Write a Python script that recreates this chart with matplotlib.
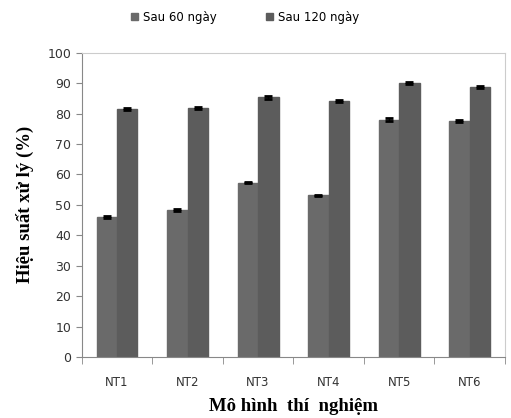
import numpy as np
import matplotlib
matplotlib.use("Agg")
import matplotlib.pyplot as plt
from matplotlib.ticker import MultipleLocator, FixedLocator

categories = ["NT1", "NT2", "NT3", "NT4", "NT5", "NT6"]
sau_60 = [46.0, 48.2, 57.3, 53.1, 78.0, 77.5]
sau_120 = [81.5, 81.8, 85.3, 84.2, 90.0, 88.8]
err_60 = [0.3, 0.3, 0.2, 0.2, 0.4, 0.4]
err_120 = [0.4, 0.4, 0.4, 0.4, 0.4, 0.4]

fig = plt.figure(figsize=(5.11, 4.18), dpi=100)
ax = fig.add_axes([0.160, 0.146, 0.828, 0.728])

x = np.arange(len(categories))
width = 0.29
err_kw = dict(ecolor="black", elinewidth=1.0, capsize=3.0, capthick=2.0)
ax.bar(x - width / 2, sau_60, width, color="#6a6a6a", edgecolor="#6a6a6a",
       yerr=err_60, error_kw=err_kw, label="Sau 60 ngày")
ax.bar(x + width / 2, sau_120, width, color="#5c5c5c", edgecolor="#5c5c5c",
       yerr=err_120, error_kw=err_kw, label="Sau 120 ngày")

ax.set_xlim(-0.5, len(categories) - 0.5)
ax.set_ylim(0, 100)
ax.yaxis.set_major_locator(MultipleLocator(10))
ax.set_xticks(x)
ax.set_xticklabels(categories)
ax.xaxis.set_minor_locator(FixedLocator(np.arange(-0.5, len(categories), 1.0)))
ax.tick_params(axis="x", which="major", length=0, pad=14, labelsize=8.5, colors="#333333")
ax.tick_params(axis="x", which="minor", length=5, color="#888888")
ax.tick_params(axis="y", length=4, color="#888888", labelsize=9, labelcolor="#333333")

for side in ["left", "bottom"]:
    ax.spines[side].set_color("#888888")
for side in ["top", "right"]:
    ax.spines[side].set_color("#cccccc")

serif = {"family": "Liberation Serif", "weight": "bold", "size": 13.5}
ax.set_xlabel("Mô hình  thí  nghiệm", fontdict=serif, labelpad=6)
ax.set_ylabel("Hiệu suất xử lý (%)", fontdict=serif, labelpad=10)

fig.legend(loc="upper center", bbox_to_anchor=(0.48, 1.0), ncol=2, frameon=False,
           fontsize=8.5, handlelength=0.6, handleheight=0.6, handletextpad=0.4,
           columnspacing=4.2)

fig.savefig("out.png", dpi=100)
